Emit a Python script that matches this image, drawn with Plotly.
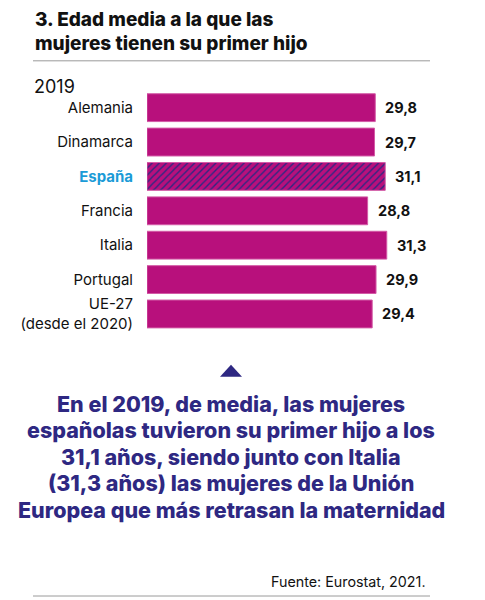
import plotly.graph_objects as go

# ---- data ----
countries = ["Alemania", "Dinamarca", "España", "Francia", "Italia", "Portugal", "UE-27<br>(desde el 2020)"]
ages = [29.8, 29.7, 31.1, 28.8, 31.3, 29.9, 29.4]
value_labels = ["29,8", "29,7", "31,1", "28,8", "31,3", "29,9", "29,4"]
highlight = "España"

title_lines = ["3. Edad media a la que las", "mujeres tienen su primer hijo"]
year_label = "2019"
note_lines = [
    "En el 2019, de media, las mujeres",
    "españolas tuvieron su primer hijo a los",
    "31,1 años, siendo junto con Italia",
    "(31,3 años) las mujeres de la Unión",
    "Europea que más retrasan la maternidad",
]
source = "Fuente: Eurostat, 2021."

# ---- style ----
OFF = 8                      # page body margin in the browser
W, H = 485 - OFF, 600 - OFF  # figure size that fits the window
FONT = "Inter"
MAGENTA = "#B8107C"
INDIGO = "#2E2882"
BLUE = "#1B9BD7"

def px(x):
    return (x - OFF) / W

def py(y):
    return 1 - (y - OFF) / H

ticktext = [
    f"<b><span style='color:{BLUE}'>{c}</span></b>" if c == highlight else c
    for c in countries
]
shapes_pat = ["/" if c == highlight else "" for c in countries]

fig = go.Figure()
fig.add_trace(go.Bar(
    x=ages,
    y=countries,
    orientation="h",
    width=0.81,
    marker=dict(
        color=MAGENTA,
        line=dict(color="#D35AA6", width=1),
        pattern=dict(shape=shapes_pat, fgcolor=INDIGO, bgcolor=MAGENTA,
                     size=5, solidity=0.28, fillmode="replace"),
    ),
    hoverinfo="skip",
))

annotations = []
for c, v, t in zip(countries, ages, value_labels):
    annotations.append(dict(
        x=v, y=c, xref="x", yref="y", text=f"<b>{t}</b>", showarrow=False,
        xanchor="left", xshift=8, font=dict(family=FONT, size=14.5, color="#111111"),
    ))

for i, line in enumerate(title_lines):
    annotations.append(dict(
        x=px(33), y=py(20 + i * 23.5), xref="paper", yref="paper", text=line,
        showarrow=False, xanchor="left", yanchor="middle",
        font=dict(family=FONT, size=19, color="#111111", weight=800),
    ))

annotations.append(dict(
    x=px(32), y=py(87), xref="paper", yref="paper", text=year_label,
    showarrow=False, xanchor="left", yanchor="middle",
    font=dict(family=FONT, size=18, color="#111111"),
))

for i, line in enumerate(note_lines):
    annotations.append(dict(
        x=px(231), y=py(405 + i * 26.7), xref="paper", yref="paper", text=line,
        showarrow=False, xanchor="center", yanchor="middle",
        font=dict(family=FONT, size=21.5, color=INDIGO, weight=800),
    ))

annotations.append(dict(
    x=px(428), y=py(583), xref="paper", yref="paper", text=source,
    showarrow=False, xanchor="right", yanchor="middle",
    font=dict(family=FONT, size=14.3, color="#111111"),
))

shapes = [
    dict(type="line", xref="paper", yref="paper", x0=px(33), x1=px(430), y0=py(61), y1=py(61),
         line=dict(color="#9a9a9a", width=1)),
    dict(type="line", xref="paper", yref="paper", x0=px(33), x1=px(430), y0=py(598), y1=py(598),
         line=dict(color="#9a9a9a", width=1)),
    dict(type="path", xref="paper", yref="paper",
         path=f"M {px(220)},{py(378)} L {px(231)},{py(366)} L {px(242)},{py(378)} Z",
         fillcolor=INDIGO, line=dict(color=INDIGO, width=0)),
]

PX_PER_UNIT = 7.66
plot_w = 300
fig.update_layout(
    width=W, height=H,
    margin=dict(l=0, r=0, t=0, b=0),
    paper_bgcolor="white", plot_bgcolor="white",
    showlegend=False,
    font=dict(family=FONT, size=15, color="#111111"),
    xaxis=dict(domain=[px(147), px(147 + plot_w)], range=[0, plot_w / PX_PER_UNIT],
               visible=False, fixedrange=True),
    yaxis=dict(domain=[py(332.25), py(90.75)], autorange="reversed",
               tickmode="array", tickvals=countries, ticktext=ticktext,
               showgrid=False, zeroline=False, showline=False, ticks="",
               ticklabelstandoff=13, tickfont=dict(family=FONT, size=15, color="#111111")),
    annotations=annotations,
    shapes=shapes,
    bargap=0.19,
)

fig.write_html("out.html")
